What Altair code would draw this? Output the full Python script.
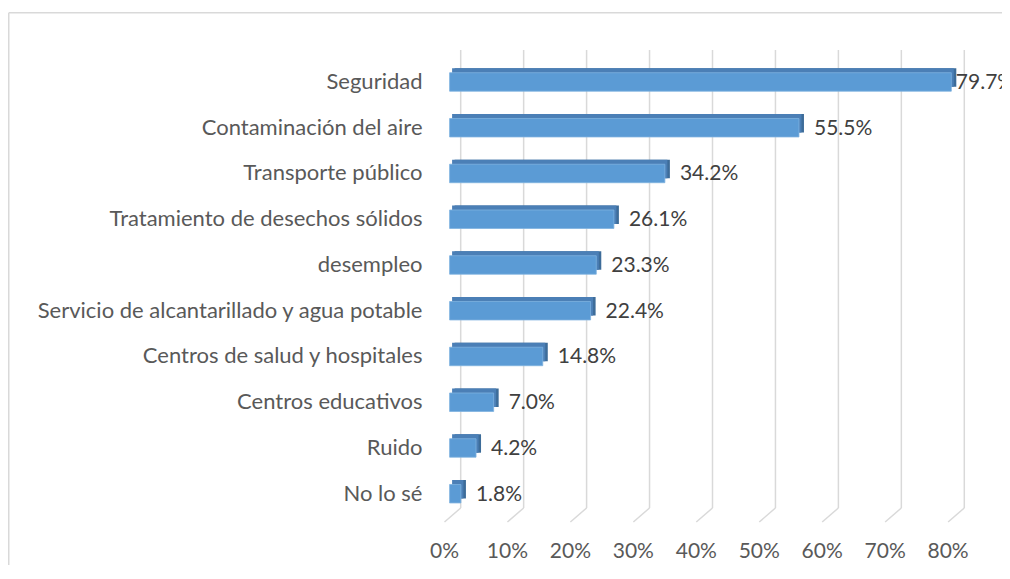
import altair as alt
import pandas as pd

categories = ["Seguridad", "Contaminación del aire", "Transporte público",
              "Tratamiento de desechos sólidos", "desempleo",
              "Servicio de alcantarillado y agua potable",
              "Centros de salud y hospitales", "Centros educativos",
              "Ruido", "No lo sé"]
values = [0.797, 0.555, 0.342, 0.261, 0.233, 0.224, 0.148, 0.070, 0.042, 0.018]
value_labels = ["79.7%", "55.5%", "34.2%", "26.1%", "23.3%", "22.4%",
                "14.8%", "7.0%", "4.2%", "1.8%"]
ticks = [0.0, 0.1, 0.2, 0.3, 0.4, 0.5, 0.6, 0.7, 0.8]
tick_labels = ["0%", "10%", "20%", "30%", "40%", "50%", "60%", "70%", "80%"]

FONT = "Lato"
FS_CAT = 22
FS_NUM = 21
W, H = 503.6, 457.5

bars = pd.DataFrame({"cat": categories, "v": values, "lab": value_labels})
grid = pd.DataFrame({"t": ticks, "lab": tick_labels})
one = pd.DataFrame({"a": [0]})

xs = alt.Scale(domain=[0, 0.8], nice=False, zero=True)
ys = alt.Scale(domain=categories, paddingInner=0.596, paddingOuter=0.298)

# chart frame (top + left border)
frame_top = alt.Chart(one).mark_rule(color="#d9d9d9", strokeWidth=1.5).encode(
    x=alt.value(-440.85), x2=alt.value(700), y=alt.value(-46.35))
frame_left = alt.Chart(one).mark_rule(color="#d9d9d9", strokeWidth=1.5).encode(
    x=alt.value(-440.85), y=alt.value(-46.35), y2=alt.value(700))

# 3D-like gridlines: back wall vertical + floor diagonal
grid_v = alt.Chart(grid).mark_rule(color="#d9d9d9", strokeWidth=1.5, xOffset=11.1).encode(
    x=alt.X("t:Q", scale=xs, axis=None),
    y=alt.value(-9.1), y2=alt.value(448.9))
grid_d = alt.Chart(grid).mark_rule(color="#d9d9d9", strokeWidth=1.5,
                                   xOffset=11.1, x2Offset=-5.1).encode(
    x=alt.X("t:Q", scale=xs, axis=None), x2=alt.X2("t"),
    y=alt.value(448.9), y2=alt.value(462.9))
grid_lab = alt.Chart(grid).mark_text(font=FONT, fontSize=FS_NUM, color="#595959",
                                     align="center", baseline="middle",
                                     xOffset=-5.1).encode(
    x=alt.X("t:Q", scale=xs, axis=None), y=alt.value(492.9), text="lab:N")

ybase = alt.Y("cat:N", scale=ys, sort=categories, title=None,
              axis=alt.Axis(domain=False, ticks=False, labelPadding=27.6,
                            labelFont=FONT, labelFontSize=FS_CAT,
                            labelColor="#595959", labelLimit=600, grid=False))
xbase = alt.X("v:Q", scale=xs, axis=None)

side = alt.Chart(bars).mark_bar(color="#3d6c99", xOffset=5, x2Offset=5,
                                yOffset=-4.5, y2Offset=-4.5).encode(x=xbase, y=ybase)
top = alt.Chart(bars).mark_bar(color="#4b7fb6", xOffset=2.5, x2Offset=0,
                               yOffset=-4.5, y2Offset=-4.5).encode(x=xbase, y=ybase)
front = alt.Chart(bars).mark_bar(color="#5b9bd5", stroke="#7fb2e0",
                                 strokeWidth=0.8).encode(x=xbase, y=ybase)

txt = alt.Chart(bars).transform_filter("datum.v < 0.75").mark_text(
    font=FONT, fontSize=FS_NUM, color="#404040", align="left", baseline="middle",
    dx=15, dy=1).encode(x=xbase, y=ybase, text="lab:N")
txt_big = alt.Chart(bars).transform_filter("datum.v >= 0.75").mark_text(
    font=FONT, fontSize=FS_NUM, color="#404040", align="left", baseline="middle",
    dx=4.5, dy=1).encode(x=xbase, y=ybase, text="lab:N")

chart = alt.layer(frame_top, frame_left, grid_v, grid_d, grid_lab,
                  side, top, front, txt, txt_big).properties(
    width=W, height=H,
    autosize=alt.AutoSizeParams(type="none"),
    padding={"left": 441.6, "top": 51.1, "right": 48.8, "bottom": 48.4},
    background="white",
).configure_view(stroke=None)

chart.save("out.html", embed_options={"renderer": "svg", "actions": False})
